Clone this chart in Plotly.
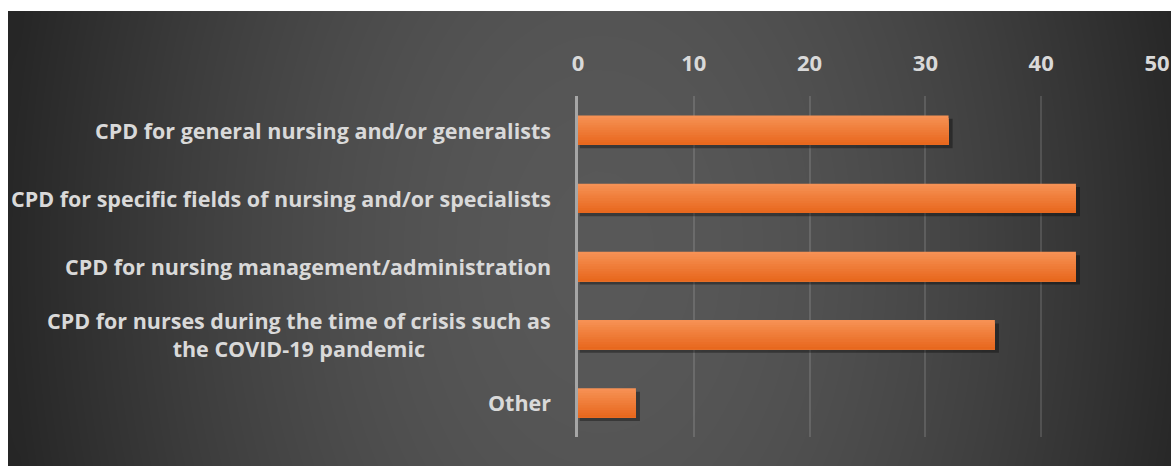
import numpy as np
import plotly.graph_objects as go

# Survey categories and counts
categories = [
    "CPD for general nursing and/or generalists",
    "CPD for specific fields of nursing and/or specialists",
    "CPD for nursing management/administration",
    "CPD for nurses during the time of crisis such as<br>the COVID-19 pandemic",
    "Other",
]
values = [32, 43, 43, 36, 5]
tick_values = [0, 10, 20, 30, 40, 50]

W, H = 1171, 466
LABEL_COLOR = "#d9d9d9"
FONT = "Open Sans"
BAR_W = 0.43

# Soft gray backdrop: brightest near the middle, darker towards the sides
gx = np.linspace(-40, W + 40, 64)
gy = np.linspace(-40, H + 40, 32)
X, Y = np.meshgrid(gx, gy)
r = np.sqrt(((X - 600) / 600.0) ** 2 + ((Y - 240) / 900.0) ** 2)
shade = np.cos(np.pi / 2 * np.clip(r, 0, 1))

fig = go.Figure()
fig.add_trace(go.Heatmap(
    x=gx, y=gy, z=shade, zmin=0, zmax=1, zsmooth="best",
    colorscale=[[0, "rgb(38,38,38)"], [1, "rgb(88,88,88)"]],
    showscale=False, hoverinfo="skip", xaxis="x", yaxis="y",
))

# Drop shadow under each bar
fig.add_trace(go.Bar(
    x=[v + 0.2 for v in values], y=categories, base=0.15, orientation="h",
    width=BAR_W, offset=-BAR_W / 2 + 0.05,
    marker=dict(color="rgba(0,0,0,0.35)", line=dict(width=0)),
    hoverinfo="skip", xaxis="x2", yaxis="y2", showlegend=False,
))

# Bars as overlapping layers, each starting lower and darker, which gives a
# top-to-bottom orange gradient without seams
top_rgb = np.array([246, 145, 84])
bot_rgb = np.array([232, 104, 30])
n_layers = 12
for i in range(n_layers):
    t = i / (n_layers - 1)
    c = (top_rgb * (1 - t) + bot_rgb * t).round().astype(int)
    start = i * BAR_W / n_layers
    fig.add_trace(go.Bar(
        x=values, y=categories, orientation="h",
        width=BAR_W - start,
        offset=-BAR_W / 2 + start,
        marker=dict(color=f"rgb({c[0]},{c[1]},{c[2]})", line=dict(width=0)),
        hoverinfo="x+y" if i == 0 else "skip",
        xaxis="x2", yaxis="y2", showlegend=False,
    ))

# Category labels, right aligned against the axis, lines centred
for cat in categories:
    fig.add_annotation(
        x=553 / W, xref="paper", y=cat, yref="y2",
        text=cat, showarrow=False, xanchor="right", yanchor="middle",
        align="center",
        font=dict(family=FONT, size=21.5, color=LABEL_COLOR, weight="bold"),
    )

fig.update_layout(
    width=W, height=H,
    margin=dict(l=0, r=0, t=0, b=0, autoexpand=False),
    paper_bgcolor="white", plot_bgcolor="rgba(0,0,0,0)",
    barmode="overlay",
    showlegend=False,
    xaxis=dict(domain=[8 / W, 1], range=[8, W], visible=False,
               fixedrange=True, automargin=False),
    yaxis=dict(domain=[0, 1 - 11 / H], range=[H - 11, 0], visible=False,
               fixedrange=True, automargin=False),
    xaxis2=dict(
        domain=[578 / W, 1157 / W], range=[0, 50], anchor="y2", side="top",
        tickvals=tick_values, showgrid=True, automargin=False,
        gridcolor="rgba(255,255,255,0.13)", gridwidth=1.5,
        zeroline=False, showline=False, ticks="",
        ticklabelstandoff=20,
        tickfont=dict(family=FONT, size=22, color=LABEL_COLOR, weight="bold"),
    ),
    yaxis2=dict(
        domain=[29 / H, 370 / H], anchor="x2", autorange="reversed",
        type="category", showticklabels=False, ticks="", automargin=False,
        showline=True, linecolor="#a6a6a6", linewidth=2.5, showgrid=False,
        zeroline=False,
    ),
)

fig.write_html("out.html")
